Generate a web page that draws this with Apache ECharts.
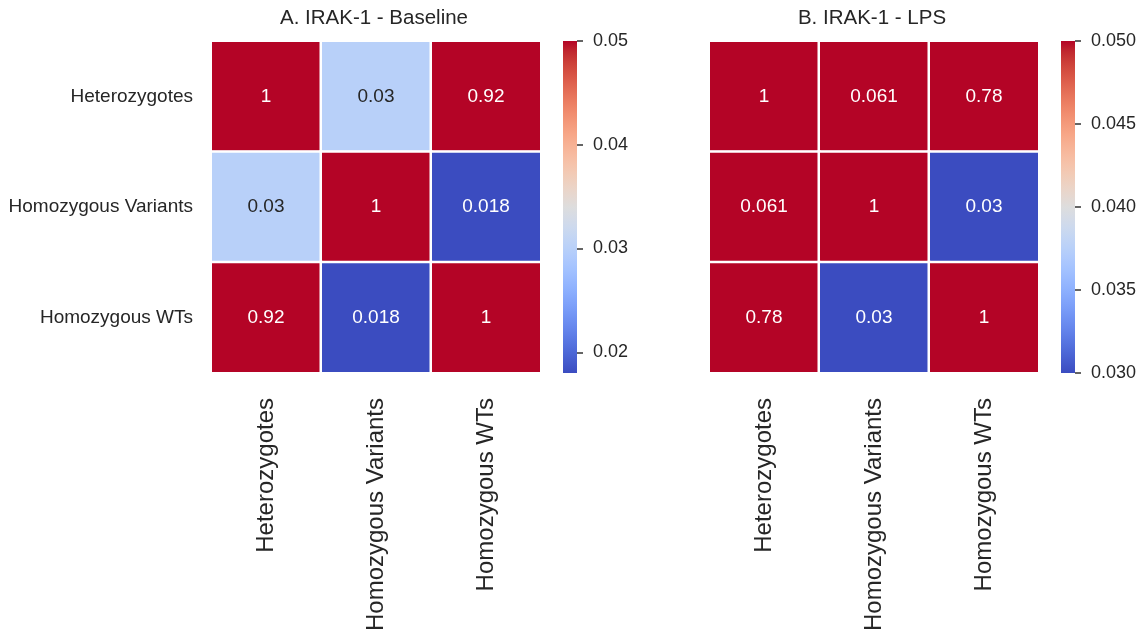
<!DOCTYPE html>
<html>
<head>
<meta charset="utf-8">
<script src="https://cdn.jsdelivr.net/npm/echarts@6/dist/echarts.min.js"></script>
<style>html,body{margin:0;padding:0;background:#fff}#c{width:1147px;height:636px}</style>
</head>
<body>
<div id="c"></div>
<script>
var categories = ['Heterozygotes', 'Homozygous Variants', 'Homozygous WTs'];
var titles = ['A. IRAK-1 - Baseline', 'B. IRAK-1 - LPS'];
var baselineValues = [
  [1, 0.03, 0.92],
  [0.03, 1, 0.018],
  [0.92, 0.018, 1]
];
var lpsValues = [
  [1, 0.061, 0.78],
  [0.061, 1, 0.03],
  [0.78, 0.03, 1]
];
var baselineRange = [0.018, 0.05];
var lpsRange = [0.03, 0.05];
var baselineTicks = [0.02, 0.03, 0.04, 0.05];
var lpsTicks = [0.03, 0.035, 0.04, 0.045, 0.05];

// coolwarm colormap stops (Moreland)
var coolwarm = [
  [59,76,192],[68,90,204],[77,104,215],[87,117,225],[98,130,234],[108,142,241],[119,154,247],[130,165,251],
  [141,176,254],[152,185,255],[163,194,255],[174,201,253],[184,208,249],[194,213,244],[204,217,238],[213,219,230],
  [221,221,221],[229,216,209],[236,211,197],[241,204,184],[245,196,172],[247,187,160],[247,177,148],[247,166,135],
  [244,154,123],[241,141,111],[236,127,99],[229,112,88],[222,96,77],[213,80,66],[203,62,56],[192,40,47],[180,4,38]
];
var cwHex = coolwarm.map(function (c) { return 'rgb(' + c.join(',') + ')'; });

function cwAt(t) {
  t = Math.max(0, Math.min(1, t));
  var p = t * (coolwarm.length - 1), i = Math.floor(p), f = p - i;
  var a = coolwarm[i], b = coolwarm[Math.min(i + 1, coolwarm.length - 1)];
  return [0, 1, 2].map(function (k) { return a[k] + (b[k] - a[k]) * f; });
}
function lum(c) {
  var l = c.map(function (v) { v /= 255; return v <= 0.03928 ? v / 12.92 : Math.pow((v + 0.055) / 1.055, 2.4); });
  return 0.2126 * l[0] + 0.7152 * l[1] + 0.0722 * l[2];
}
function fmt2g(v) { return String(Number(v.toPrecision(2))); }

function buildData(matrix, range) {
  var out = [];
  matrix.forEach(function (row, r) {
    row.forEach(function (v, c) {
      var t = (v - range[0]) / (range[1] - range[0]);
      var dark = lum(cwAt(t)) > 0.408;
      out.push({ value: [c, r, v], label: { color: dark ? '#262626' : '#ffffff' } });
    });
  });
  return out;
}

var gradStops = cwHex.map(function (c, i) { return { offset: i / (cwHex.length - 1), color: c }; });

var FONT = "'Liberation Sans', Arial, sans-serif";
var TXT = '#262626';
var heatLefts = [211, 709];
var cbLefts = [563, 1061];
var TOP = 41, H = 332, W = 330;

var grids = [], xAxes = [], yAxes = [], series = [], visualMaps = [], titleOpts = [];
var mats = [baselineValues, lpsValues];
var ranges = [baselineRange, lpsRange];
var ticks = [baselineTicks, lpsTicks];
var decs = [2, 3];

for (var k = 0; k < 2; k++) {
  grids.push({ left: heatLefts[k], top: TOP, width: W, height: H });
  xAxes.push({
    type: 'category', gridIndex: k, data: categories,
    axisLine: { show: false }, axisTick: { show: false }, splitLine: { show: false },
    axisLabel: { rotate: 90, margin: 25, fontSize: 24, color: TXT, fontFamily: FONT }
  });
  yAxes.push({
    type: 'category', gridIndex: k, data: categories, inverse: true,
    axisLine: { show: false }, axisTick: { show: false }, splitLine: { show: false },
    axisLabel: { show: k === 0, margin: 18, fontSize: 19, color: TXT, fontFamily: FONT }
  });
  series.push({
    type: 'heatmap', xAxisIndex: k, yAxisIndex: k,
    data: buildData(mats[k], ranges[k]),
    itemStyle: { borderColor: '#ffffff', borderWidth: 2.5 },
    label: {
      show: true, fontSize: 19, fontFamily: FONT,
      formatter: function (p) { return fmt2g(p.value[2]); }
    },
    emphasis: { disabled: true }
  });
  visualMaps.push({
    type: 'continuous', seriesIndex: k, dimension: 2, show: false,
    min: ranges[k][0], max: ranges[k][1],
    inRange: { color: cwHex }
  });
  titleOpts.push({
    text: titles[k], left: heatLefts[k] + W / 2 - 2, top: 8, textAlign: 'center', padding: 0,
    textStyle: { fontSize: 20.5, fontWeight: 'normal', color: TXT, fontFamily: FONT }
  });
}
// colorbars: gradient grid + tick axis
for (var j = 0; j < 2; j++) {
  (function (j) {
    grids.push({
      left: cbLefts[j], top: TOP, width: 14, height: H, show: true, borderWidth: 0,
      backgroundColor: new echarts.graphic.LinearGradient(0, 1, 0, 0, gradStops)
    });
    xAxes.push({ type: 'value', gridIndex: 2 + j, show: false, min: 0, max: 1 });
    yAxes.push({
      type: 'value', gridIndex: 2 + j, position: 'right',
      min: ranges[j][0], max: ranges[j][1],
      axisLine: { show: true, onZero: false, lineStyle: { color: 'rgba(0,0,0,0)' } },
      splitLine: { show: false },
      axisTick: { show: true, inside: false, length: 6, customValues: ticks[j], lineStyle: { color: '#333333', width: 1.5 } },
      axisLabel: {
        show: true, margin: 16, fontSize: 18, color: TXT, fontFamily: FONT,
        customValues: ticks[j],
        formatter: function (v) { return v.toFixed(decs[j]); }
      }
    });
  })(j);
}

var chart = echarts.init(document.getElementById('c'), null, { renderer: 'canvas' });
chart.setOption({
  backgroundColor: '#ffffff',
  animation: false,
  title: titleOpts,
  grid: grids,
  xAxis: xAxes,
  yAxis: yAxes,
  visualMap: visualMaps,
  series: series
});
</script>
</body>
</html>
